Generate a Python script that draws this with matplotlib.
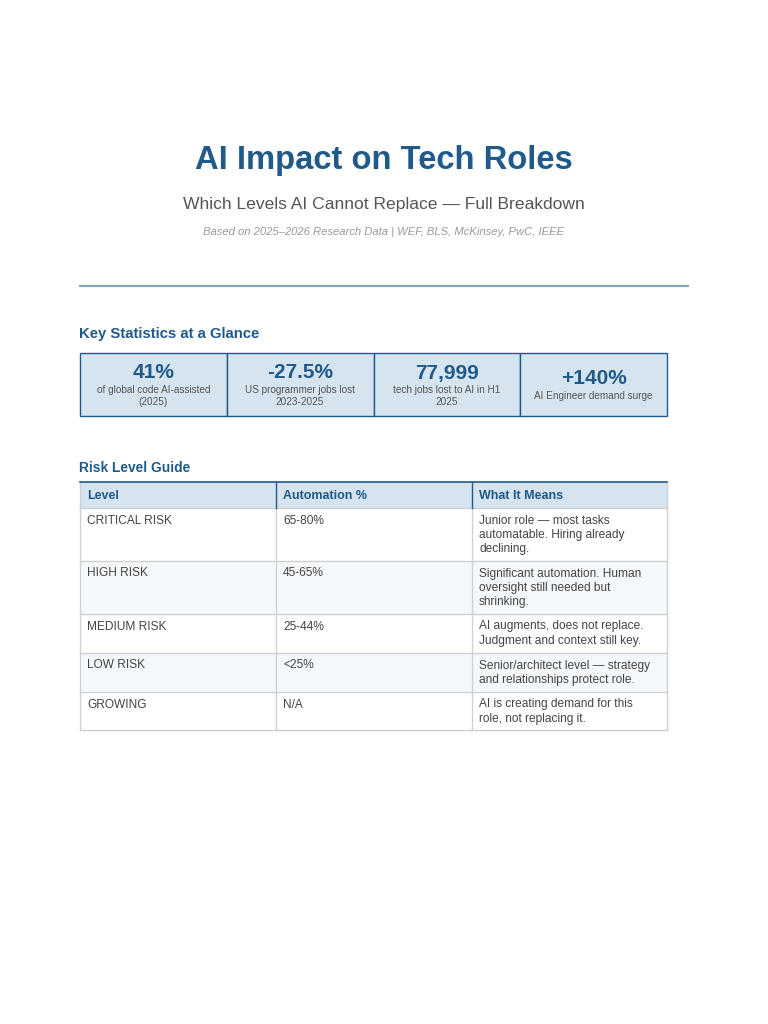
import matplotlib
matplotlib.use("Agg")
import matplotlib.pyplot as plt
from matplotlib.patches import Rectangle

plt.rcParams['font.family'] = ['Liberation Sans', 'DejaVu Sans']

title = "AI Impact on Tech Roles"
subtitle = "Which Levels AI Cannot Replace \u2014 Full Breakdown"
source = "Based on 2025\u20132026 Research Data | WEF, BLS, McKinsey, PwC, IEEE"

stat_values = ["41%", "-27.5%", "77,999", "+140%"]
stat_labels = ["of global code AI-assisted\n(2025)", "US programmer jobs lost\n2023-2025",
               "tech jobs lost to AI in H1\n2025", "AI Engineer demand surge"]

table_header = ["Level", "Automation %", "What It Means"]
levels = ["CRITICAL RISK", "HIGH RISK", "MEDIUM RISK", "LOW RISK", "GROWING"]
automation = ["65-80%", "45-65%", "25-44%", "<25%", "N/A"]
meanings = ["Junior role \u2014 most tasks\nautomatable. Hiring already\ndeclining.",
            "Significant automation. Human\noversight still needed but\nshrinking.",
            "AI augments, does not replace.\nJudgment and context still key.",
            "Senior/architect level \u2014 strategy\nand relationships protect role.",
            "AI is creating demand for this\nrole, not replacing it."]

BLUE = "#1f5a8a"
LIGHT = "#d6e4f0"
W, H = 768, 1024
fig = plt.figure(figsize=(W / 100, H / 100), dpi=100)
ax = fig.add_axes([0, 0, 1, 1])
ax.set_xlim(0, W)
ax.set_ylim(H, 0)
ax.axis("off")

ax.text(384, 161, title, ha="center", va="center", fontsize=23.6, fontweight="bold", color=BLUE)
ax.text(384, 205, subtitle, ha="center", va="center", fontsize=12.6, color="#555555")
ax.text(384, 232, source, ha="center", va="center", fontsize=8.1, style="italic", color="#999999")
ax.plot([79, 689], [286, 286], color="#7fa2c0", lw=1.5, solid_capstyle="butt")

ax.text(79, 334, "Key Statistics at a Glance", ha="left", va="center", fontsize=10.7,
        fontweight="bold", color=BLUE)

x0, x1, y0, y1 = 80, 667, 353, 416
cw = (x1 - x0) / len(stat_values)
for i, (v, lab) in enumerate(zip(stat_values, stat_labels)):
    cx = x0 + i * cw
    ax.add_patch(Rectangle((cx, y0), cw, y1 - y0, facecolor=LIGHT, edgecolor=BLUE, lw=1.0))
    nlines = lab.count("\n") + 1
    vy = 373 if nlines == 2 else 379
    ax.text(cx + cw / 2, vy, v, ha="center", va="center", fontsize=15, fontweight="bold", color=BLUE)
    ax.text(cx + cw / 2, vy + 12, lab, ha="center", va="top", fontsize=7.2, color="#555555",
            linespacing=1.25)

ax.text(79, 468, "Risk Level Guide", ha="left", va="center", fontsize=9.9,
        fontweight="bold", color=BLUE)

cols = [80, 276, 472, 667]
hy0, hy1 = 482, 508
row_bounds = [508, 561, 614, 653, 692, 730]
GRID = "#d0d0d0"
ax.add_patch(Rectangle((cols[0], hy0), cols[-1] - cols[0], hy1 - hy0, facecolor=LIGHT, edgecolor="none"))
for j, h in enumerate(table_header):
    ax.text(cols[j] + 7, (hy0 + hy1) / 2 + 1, h, ha="left", va="center", fontsize=9,
            fontweight="bold", color=BLUE)
for r in range(len(levels)):
    ry0, ry1 = row_bounds[r], row_bounds[r + 1]
    fc = "white" if r % 2 == 0 else "#f4f8fb"
    ax.add_patch(Rectangle((cols[0], ry0), cols[-1] - cols[0], ry1 - ry0, facecolor=fc, edgecolor="none"))
    cells = [levels[r], automation[r], meanings[r]]
    for j, c in enumerate(cells):
        ax.text(cols[j] + 7, ry0 + 6.5, c, ha="left", va="top", fontsize=8.6, color="#444444",
                linespacing=1.27)
for yb in row_bounds:
    ax.plot([cols[0], cols[-1]], [yb, yb], color=GRID, lw=1.0)
for xc in cols:
    ax.plot([xc, xc], [hy1, row_bounds[-1]], color=GRID, lw=1.0)
ax.plot([cols[0], cols[0]], [hy0, hy1], color=GRID, lw=1.0)
ax.plot([cols[-1], cols[-1]], [hy0, hy1], color=GRID, lw=1.0)
for xc in cols[1:-1]:
    ax.plot([xc, xc], [hy0, hy1], color=BLUE, lw=1.0)
ax.plot([cols[0], cols[-1]], [hy0, hy0], color=BLUE, lw=1.2)

fig.savefig("out.png", dpi=100, facecolor="white")
